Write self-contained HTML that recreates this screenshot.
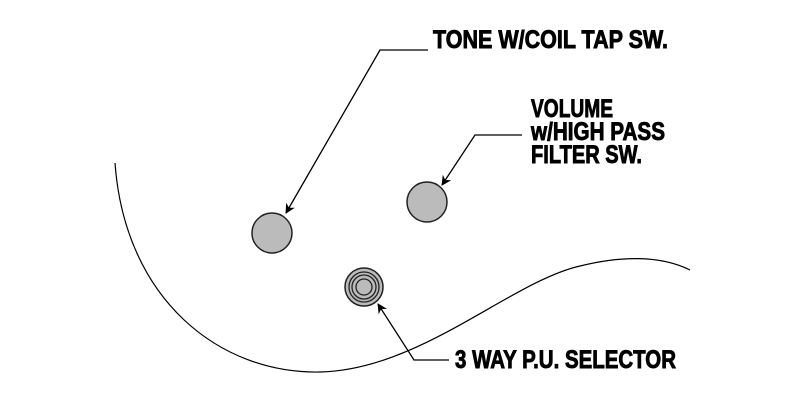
<!DOCTYPE html>
<html><head><style>html,body{margin:0;padding:0;background:#fff}</style></head>
<body>
<svg width="800" height="400" viewBox="0 0 800 400" xmlns="http://www.w3.org/2000/svg">
<defs>
<marker id="a" viewBox="0 0 10 10" refX="9" refY="5" markerWidth="10" markerHeight="10" markerUnits="userSpaceOnUse" orient="auto">
<path d="M0,0 L10,5 L0,10 L3,5 z" fill="#000"/>
</marker>
</defs>
<path d="M115,163 C125,300 220,374 320,372 C420,370 510,282 580,266 C620,256 660,255 690,270" fill="none" stroke="#000" stroke-width="1.2"/>
<circle cx="272" cy="233" r="20" fill="#bbb" stroke="#222" stroke-width="1.5"/>
<circle cx="427" cy="202" r="20" fill="#bbb" stroke="#222" stroke-width="1.5"/>
<circle cx="364" cy="287" r="19" fill="#bbb" stroke="#222" stroke-width="1.5"/>
<circle cx="364" cy="287" r="15" fill="none" stroke="#222" stroke-width="1.3"/>
<circle cx="364" cy="287" r="12" fill="none" stroke="#222" stroke-width="1.3"/>
<circle cx="364" cy="287" r="8" fill="#bbb" stroke="#222" stroke-width="1.3"/>
<polyline points="428,50 380,50 286,213" fill="none" stroke="#000" stroke-width="1.3" marker-end="url(#a)"/>
<polyline points="522,135 475,135 442,185" fill="none" stroke="#000" stroke-width="1.3" marker-end="url(#a)"/>
<polyline points="449,360 414,360 378,304" fill="none" stroke="#000" stroke-width="1.3" marker-end="url(#a)"/>
<g font-family="'Liberation Sans',sans-serif" font-weight="bold" font-size="25" fill="#000" stroke="#000" stroke-width="0.9">
<text x="433" y="48" textLength="235" lengthAdjust="spacingAndGlyphs">TONE W/COIL TAP SW.</text>
<text x="531" y="117" textLength="82" lengthAdjust="spacingAndGlyphs">VOLUME</text>
<text x="531" y="140" textLength="134" lengthAdjust="spacingAndGlyphs">w/HIGH PASS</text>
<text x="531" y="163" textLength="111" lengthAdjust="spacingAndGlyphs">FILTER SW.</text>
<text x="455" y="368" textLength="221" lengthAdjust="spacingAndGlyphs">3 WAY P.U. SELECTOR</text>
</g>
</svg>
</body></html>
